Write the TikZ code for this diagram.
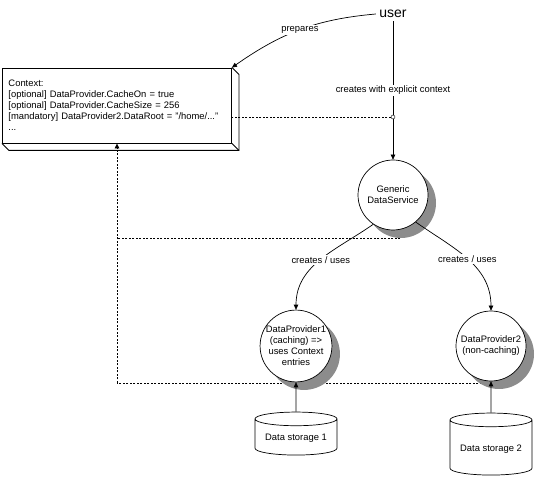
\documentclass[tikz,border=0pt]{standalone}
\usepackage{fontspec}
\setmainfont{Liberation Sans}
\usetikzlibrary{arrows.meta,positioning,shapes.geometric,shadows,backgrounds}

\begin{document}
\begin{tikzpicture}[x=1pt,y=1pt,
    font=\fontsize{9.4}{11}\selectfont,
    flow/.style={-{Triangle[length=5pt,width=4.5pt]},line width=0.7pt},
    ctxline/.style={dash pattern=on 2pt off 1.5pt,line width=0.7pt},
    lbl/.style={fill=white,inner sep=1.5pt},
    proc/.style={draw,circle,fill=white,line width=0.7pt,minimum size=70pt,inner sep=0pt,align=center,
        drop shadow={shadow xshift=8pt,shadow yshift=-8pt,fill=black!45,opacity=1}},
    store/.style={draw,cylinder,shape border rotate=90,aspect=0.2,line width=0.7pt,minimum width=82pt}]
    \useasboundingbox (0,0) rectangle (539,480);

    % context box (3d look)
    \node[draw,line width=0.9pt,text width=217pt,inner xsep=6pt,minimum height=75pt,align=left] (ctx) at (117,374.5)
        {Context:\\
         {[optional]} DataProvider.CacheOn = true\\
         {[optional]} DataProvider.CacheSize = 256\\
         {[mandatory]} DataProvider2.DataRoot = "/home/..."\\
         ...};
    \draw[line width=0.9pt] (ctx.north east) -- ++(7,-7) |- ([shift={(7,-7)}]ctx.south west) -- (ctx.south west);
    \draw[line width=0.9pt] (ctx.south east) -- ++(7,-7);

    % user, service and providers
    \node[font=\fontsize{14}{16}\selectfont] (user) at (393,466) {user};
    \node[proc] (gds) at (393,285) {Generic\\DataService};
    \node[proc] (dp1) at (296,134) {DataProvider1\\(caching) =>\\uses Context\\entries};
    \node[proc] (dp2) at (491,134) {DataProvider2\\(non-caching)};
    \node[store,minimum height=43pt] (st1) at (296,41.5) {Data storage 1};
    \node[store,minimum height=62pt] (st2) at (491,31) {Data storage 2};

    \draw[flow] (user) -- node[lbl] {creates with explicit context} (gds);
    \draw[flow] (user.west) to[out=185,in=35] node[lbl] {prepares} (ctx.north east);
    \node[draw,circle,fill=white,inner sep=0pt,minimum size=4pt] (cj) at (user |- 0,363) {};

    \draw[flow] (gds.236) to[out=215,in=90] node[lbl] {creates / uses} (dp1.north);
    \draw[flow] (gds.310) to[out=-35,in=90] node[lbl] {creates / uses} (dp2.north);
    \draw[flow] (st1) -- (dp1);
    \draw[flow] (st2) -- (dp2);

    % context lookups
    \coordinate (gbus) at (400,242);
    \coordinate (bus) at (117,97);
    \coordinate (dbus) at (499,97);
    \begin{scope}[on background layer]
        \draw[ctxline] (cj) -- (cj -| ctx.east);
        \draw[ctxline] (gbus) -- (gbus -| bus);
        \draw[ctxline] (dbus) -- (bus);
        \draw[ctxline,-{Triangle[length=5pt,width=4.5pt]}] (bus) -- (ctx.south);
    \end{scope}
\end{tikzpicture}
\end{document}
